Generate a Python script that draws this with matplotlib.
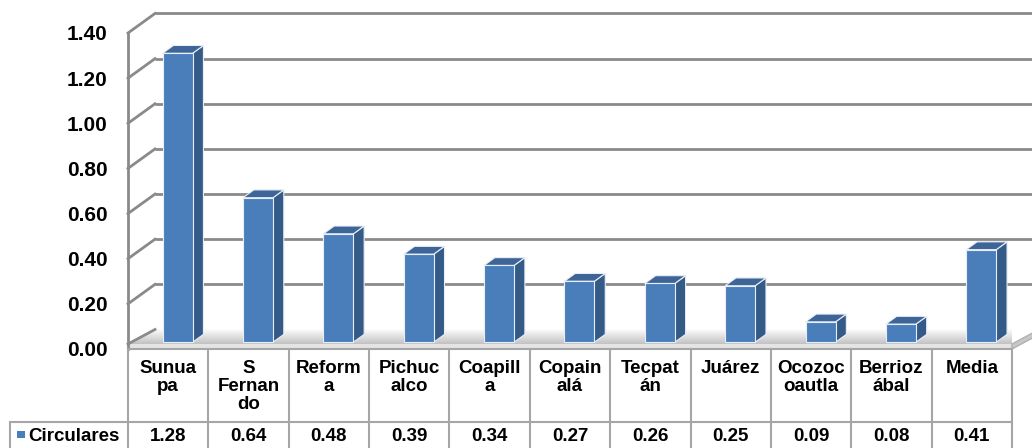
import numpy as np
import matplotlib.pyplot as plt
from matplotlib.patches import Polygon, Rectangle

CATEGORIES = ["Sunua\npa", "S\nFernan\ndo", "Reform\na", "Pichuc\nalco", "Coapill\na",
              "Copain\nalá", "Tecpat\nán", "Juárez", "Ocozoc\noautla", "Berrioz\nábal", "Media"]
VALUES = [1.28, 0.64, 0.48, 0.39, 0.34, 0.27, 0.26, 0.25, 0.09, 0.08, 0.41]
SERIES = "Circulares"
Y_TICKS = [0.0, 0.2, 0.4, 0.6, 0.8, 1.0, 1.2, 1.4]

W, H = 1032, 448
PLOT_L, PLOT_R, PLOT_T, PLOT_B = 128, 1012, 33, 349
n = len(VALUES)
XS = (PLOT_R - PLOT_L) / n          # px per category
YS = (PLOT_B - PLOT_T) / Y_TICKS[-1]  # px per unit

# 3D depth offset (full depth), in data units
DX = 27 / XS
DY = 19.5 / YS
F1, F2 = 0.35, 0.75     # bar front / back depth fraction
BW = 30 / XS            # bar width
SLAB = 5 / YS           # floor thickness

FRONT = "#4a7ebb"
SIDE = "#345a88"
TOP = "#3d6598"
GRID = "#8a8a8a"
TABLE = "#a6a6a6"

plt.rcParams["font.family"] = ["Liberation Sans", "DejaVu Sans"]
plt.rcParams["font.weight"] = "bold"


def px_x(px):
    return (px - PLOT_L) / XS


def px_y(py):
    return (PLOT_B - py) / YS


fig = plt.figure(figsize=(W / 100, H / 100), dpi=100)
ax = fig.add_axes([PLOT_L / W, 1 - PLOT_B / H, (PLOT_R - PLOT_L) / W, (PLOT_B - PLOT_T) / H])
ymax = Y_TICKS[-1]

# floor: top surface with gradient, thin front slab
floor = Polygon([(0, SLAB), (n, SLAB), (n + DX, DY), (DX, DY)], closed=True,
                facecolor="none", edgecolor="none")
ax.add_patch(floor)
grad = np.linspace(0.76, 0.99, 50).reshape(-1, 1)
im = ax.imshow(grad, extent=[0, n + DX, SLAB, DY], origin="lower", cmap="gray",
               vmin=0, vmax=1, aspect="auto", zorder=1)
im.set_clip_path(floor)
ax.add_patch(Polygon([(0, 0), (n, 0), (n, SLAB), (0, SLAB)], closed=True,
                     facecolor="#e4e4e4", edgecolor="none", zorder=1, clip_on=False))
ax.add_patch(Polygon([(n, 0), (n + DX, DY - SLAB), (n + DX, DY), (n, SLAB)], closed=True,
                     facecolor="#c8c8c8", edgecolor="#b0b0b0", lw=1, zorder=1, clip_on=False))

# walls: back gridlines and left wall diagonals
for t in Y_TICKS:
    if t > 0:
        ax.plot([DX, n + DX], [t + DY, t + DY], color=GRID, lw=2, zorder=1,
                clip_on=False, solid_capstyle="butt")
        ax.plot([0, DX], [t, t + DY], color=GRID, lw=2, zorder=1, clip_on=False)
    else:
        ax.plot([0, DX], [SLAB, DY], color=GRID, lw=2, zorder=1, clip_on=False)
ax.plot([0, 0], [0, ymax], color=GRID, lw=2, zorder=2, clip_on=False)

# bars
for i, v in enumerate(VALUES):
    x0 = i + 0.5 - BW / 2 + F1 * DX
    y0 = F1 * DY
    ddx = (F2 - F1) * DX
    ddy = (F2 - F1) * DY
    front = [(x0, y0), (x0 + BW, y0), (x0 + BW, y0 + v), (x0, y0 + v)]
    side = [(x0 + BW, y0), (x0 + BW + ddx, y0 + ddy), (x0 + BW + ddx, y0 + v + ddy), (x0 + BW, y0 + v)]
    top = [(x0, y0 + v), (x0 + BW, y0 + v), (x0 + BW + ddx, y0 + v + ddy), (x0 + ddx, y0 + v + ddy)]
    for pts, col in ((side, SIDE), (top, TOP), (front, FRONT)):
        ax.add_patch(Polygon(pts, closed=True, facecolor=col, edgecolor="#e8eef6",
                             lw=0.8, zorder=3, clip_on=False))

ax.set_xlim(0, n)
ax.set_ylim(0, ymax)
ax.set_xticks([])
ax.set_yticks(Y_TICKS)
ax.set_yticklabels([f"{t:.2f}" for t in Y_TICKS], fontsize=15, fontweight="bold")
ax.tick_params(axis="y", length=0, pad=14.5)
for s in ax.spines.values():
    s.set_visible(False)
ax.patch.set_visible(False)

# data table
y_row_top = px_y(422)
y_row_bot = px_y(452)
x_left = px_x(10)
tbl = dict(color=TABLE, lw=1.5, clip_on=False, zorder=2)
ax.plot([0, n], [0, 0], **tbl)
ax.plot([x_left, n], [y_row_top, y_row_top], **tbl)
ax.plot([x_left, x_left], [y_row_top, y_row_bot], **tbl)
for k in range(n + 1):
    ax.plot([k, k], [0, y_row_bot], **tbl)

for i, (cat, v) in enumerate(zip(CATEGORIES, VALUES)):
    ax.text(i + 0.5, px_y(360), cat, ha="center", va="top", fontsize=13.5,
            fontweight="bold", linespacing=1.08, clip_on=False)
    ax.text(i + 0.5, px_y(436), f"{v:.2f}", ha="center", va="center", fontsize=13.5,
            fontweight="bold", clip_on=False)

ax.add_patch(Rectangle((px_x(17), px_y(438)), 8 / XS, 7 / YS, facecolor=FRONT,
                       edgecolor="none", clip_on=False))
ax.text(px_x(28), px_y(436), SERIES, ha="left", va="center", fontsize=13.5,
        fontweight="bold", clip_on=False)

fig.savefig("out.png", dpi=100)
